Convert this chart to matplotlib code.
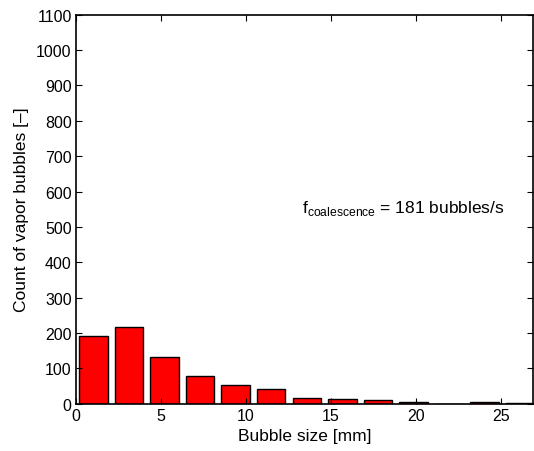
import numpy as np
import matplotlib
matplotlib.use('Agg')
from matplotlib import pyplot as plt

plt.rcParams['font.family'] = ['Liberation Sans', 'DejaVu Sans']
plt.rcParams['mathtext.fontset'] = 'custom'
plt.rcParams['mathtext.rm'] = 'Liberation Sans'

# Histogram data
bin_width = 2.09
bin_centers = 1.03 + bin_width * np.arange(13)
counts = [190, 216, 132, 78, 52, 41, 16, 12, 10, 5, 0, 3, 1]

x_ticks = [0, 5, 10, 15, 20, 25]
y_ticks = list(range(0, 1101, 100))

fig = plt.figure(figsize=(5.34, 4.52), dpi=100)
ax = fig.add_axes([0.142, 0.105, 0.856, 0.860])

ax.bar(bin_centers, counts, width=0.8 * bin_width, color='#ff0000',
       edgecolor='black', linewidth=1.0)

ax.set_xlim(0, 26.86)
ax.set_ylim(0, 1100)
ax.set_xticks(x_ticks)
ax.set_yticks(y_ticks)
ax.tick_params(direction='in', top=True, right=True, labelsize=11.5, length=4, width=0.8, pad=3)
for s in ax.spines.values():
    s.set_linewidth(1.2)

ax.set_xlabel('Bubble size [mm]', fontsize=12.5, labelpad=4)
ax.set_ylabel('Count of vapor bubbles [\u2013]', fontsize=12.5, labelpad=5)

ax.text(13.3, 555, r'f$_{\mathrm{coalescence}}$ = 181 bubbles/s', fontsize=12.5,
        va='center', ha='left')

fig.savefig('out.png', dpi=100)
